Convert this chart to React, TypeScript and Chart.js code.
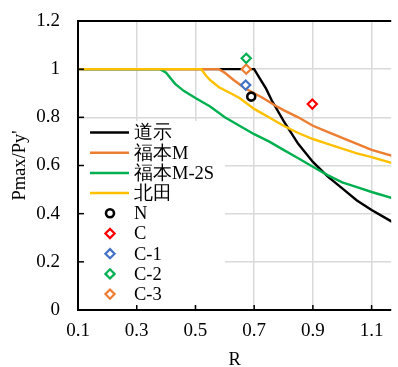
import { useEffect, useRef } from "react";
import { Chart, registerables } from "chart.js";

Chart.register(...registerables);

// ---- data ----
const xTicks = [0.1, 0.3, 0.5, 0.7, 0.9, 1.1];
const yTicks = [0, 0.2, 0.4, 0.6, 0.8, 1, 1.2];

const douziR = [0.1, 0.7, 0.72, 0.74, 0.76, 0.8, 0.85, 0.9, 0.95, 1.0, 1.05, 1.1, 1.17];
const douziV = [1, 1, 0.96, 0.92, 0.87, 0.785, 0.69, 0.615, 0.555, 0.505, 0.455, 0.415, 0.366];

const fukuR = [0.1, 0.58, 0.6, 0.63, 0.67, 0.7, 0.73, 0.77, 0.8, 0.85, 0.9, 0.95, 1.0, 1.05, 1.1, 1.17];
const fukuV = [1, 1, 0.985, 0.955, 0.92, 0.9, 0.88, 0.85, 0.83, 0.8, 0.765, 0.74, 0.715, 0.69, 0.665, 0.64];

const fuku2sR = [0.1, 0.38, 0.4, 0.43, 0.46, 0.5, 0.55, 0.6, 0.65, 0.7, 0.75, 0.8, 0.85, 0.9, 0.95, 1.0, 1.05, 1.1, 1.17];
const fuku2sV = [1, 1, 0.985, 0.94, 0.91, 0.88, 0.845, 0.8, 0.765, 0.73, 0.7, 0.665, 0.63, 0.595, 0.56, 0.53, 0.51, 0.49, 0.465];

const kitaR = [0.1, 0.52, 0.535, 0.55, 0.58, 0.62, 0.65, 0.7, 0.75, 0.8, 0.85, 0.9, 0.95, 1.0, 1.05, 1.1, 1.17];
const kitaV = [1, 1, 0.975, 0.955, 0.925, 0.9, 0.88, 0.835, 0.8, 0.765, 0.735, 0.71, 0.69, 0.67, 0.65, 0.635, 0.61];

const pointLabels = ["N", "C", "C-1", "C-2", "C-3"];
const pointR = [0.69, 0.898, 0.671, 0.673, 0.673];
const pointV = [0.886, 0.855, 0.934, 1.045, 1.0];

const lineLabels = ["道示", "福本M", "福本M-2S", "北田"];

const FONT = "'Liberation Serif', 'Times New Roman', serif";

function zip(xs: number[], ys: number[]) {
  return xs.map((x, i) => ({ x, y: ys[i] }));
}

function marker(ctx: CanvasRenderingContext2D, style: string, r: number, x: number, y: number) {
  ctx.beginPath();
  if (style === "circle") {
    ctx.arc(x, y, r, 0, Math.PI * 2);
  } else {
    ctx.moveTo(x, y - r);
    ctx.lineTo(x + r, y);
    ctx.lineTo(x, y + r);
    ctx.lineTo(x - r, y);
    ctx.closePath();
  }
  ctx.fill();
  ctx.stroke();
}

const bgPlugin = {
  id: "whiteBg",
  beforeDraw(chart: any) {
    const ctx = chart.ctx;
    ctx.save();
    ctx.fillStyle = "#ffffff";
    ctx.fillRect(0, 0, chart.width, chart.height);
    ctx.restore();
  },
};

const legendPlugin = {
  id: "boxLegend",
  afterDatasetsDraw(chart: any) {
    const ctx = chart.ctx;
    const area = chart.chartArea;
    ctx.save();
    const left = area.left + 2;
    const top = area.top + 100;
    ctx.fillStyle = "#ffffff";
    ctx.fillRect(left, top, 145, 184);
    const datasets = chart.data.datasets;
    for (let row = 0; row < datasets.length; row++) {
      const ds = datasets[row];
      const y = top + 11.5 + row * 20.2;
      if (ds.showLine) {
        ctx.strokeStyle = ds.borderColor;
        ctx.lineWidth = 2.5;
        ctx.beginPath();
        ctx.moveTo(left + 10, y);
        ctx.lineTo(left + 49, y);
        ctx.stroke();
      } else {
        ctx.strokeStyle = ds.borderColor;
        ctx.fillStyle = "#ffffff";
        ctx.lineWidth = ds.pointBorderWidth;
        marker(ctx, ds.pointStyle, ds.pointRadius, left + 30, y);
      }
      ctx.fillStyle = "#000000";
      ctx.font = "18.5px " + FONT;
      ctx.textBaseline = "middle";
      ctx.textAlign = "left";
      ctx.fillText(ds.label, left + 54, y + 1);
    }
    ctx.restore();
  },
};

const framePlugin = {
  id: "frame",
  afterDraw(chart: any) {
    const ctx = chart.ctx;
    const area = chart.chartArea;
    ctx.save();
    ctx.strokeStyle = "#000000";
    ctx.lineWidth = 2;
    ctx.beginPath();
    ctx.moveTo(area.left, area.top);
    ctx.lineTo(area.right, area.top);
    ctx.stroke();
    ctx.beginPath();
    ctx.moveTo(area.left, area.top - 1);
    ctx.lineTo(area.left, area.bottom + 1);
    ctx.stroke();
    ctx.beginPath();
    ctx.moveTo(area.left - 1, area.bottom);
    ctx.lineTo(area.right, area.bottom);
    ctx.stroke();
    ctx.lineWidth = 1.5;
    const xs = chart.scales.x;
    const ys = chart.scales.y;
    xTicks.forEach((v) => {
      const px = xs.getPixelForValue(v);
      ctx.beginPath();
      ctx.moveTo(px, area.bottom);
      ctx.lineTo(px, area.bottom - 5);
      ctx.stroke();
    });
    yTicks.forEach((v) => {
      const py = ys.getPixelForValue(v);
      ctx.beginPath();
      ctx.moveTo(area.left, py);
      ctx.lineTo(area.left + 6, py);
      ctx.stroke();
    });
    ctx.restore();
  },
};

export default function App() {
  const ref = useRef<HTMLCanvasElement | null>(null);
  useEffect(() => {
    if (!ref.current) return;
    const lineColors = ["#000000", "#ed7d31", "#00b050", "#ffc000"];
    const lineData = [zip(douziR, douziV), zip(fukuR, fukuV), zip(fuku2sR, fuku2sV), zip(kitaR, kitaV)];
    const lineOrder = [4, 3, 2, 1];
    const pointColors = ["#000000", "#ff0000", "#4472c4", "#00b050", "#ed7d31"];
    const datasets: any[] = [];
    lineLabels.forEach((label, i) => {
      datasets.push({
        label,
        data: lineData[i],
        showLine: true,
        borderColor: lineColors[i],
        backgroundColor: lineColors[i],
        borderWidth: 2.4,
        pointRadius: 0,
        order: lineOrder[i],
      });
    });
    pointLabels.forEach((label, i) => {
      datasets.push({
        label,
        data: [{ x: pointR[i], y: pointV[i] }],
        showLine: false,
        borderColor: pointColors[i],
        backgroundColor: "#ffffff",
        pointStyle: i === 0 ? "circle" : "rectRot",
        pointRadius: i === 0 ? 4 : 4.6,
        pointBorderWidth: i === 0 ? 2.6 : 2.2,
        order: 0,
      });
    });
    const chart = new Chart(ref.current, {
      type: "scatter",
      data: { datasets },
      plugins: [bgPlugin, legendPlugin, framePlugin],
      options: {
        animation: false,
        responsive: false,
        layout: { padding: { top: 21, right: 0, left: 0, bottom: 0 } },
        plugins: { legend: { display: false } },
        scales: {
          x: {
            min: 0.1,
            max: 1.1667,
            afterBuildTicks: (s: any) => {
              s.ticks = xTicks.map((v) => ({ value: v }));
            },
            afterFit: (s: any) => {
              s.height = 57;
              s.paddingLeft = 0;
              s.paddingRight = 0;
            },
            ticks: {
              color: "#000",
              padding: 10,
              font: { family: FONT, size: 19 },
            },
            grid: { color: "#d9d9d9", lineWidth: 1.5, drawTicks: false },
            border: { display: false },
            title: {
              display: true,
              text: "R",
              color: "#000",
              font: { family: FONT, size: 18.5, lineHeight: 1 },
              padding: { top: 0, bottom: -2.5 },
            },
          },
          y: {
            min: 0,
            max: 1.2,
            afterBuildTicks: (s: any) => {
              s.ticks = yTicks.map((v) => ({ value: v }));
            },
            afterFit: (s: any) => {
              s.width = 78;
              s.paddingTop = 0;
              s.paddingBottom = 0;
            },
            ticks: {
              color: "#000",
              padding: 18,
              font: { family: FONT, size: 19 },
              callback: (v: any) => String(v),
            },
            grid: { color: "#d9d9d9", lineWidth: 1.5, drawTicks: false },
            border: { display: false },
            title: {
              display: true,
              text: "Pmax/Py'",
              color: "#000",
              font: { family: FONT, size: 18.5, lineHeight: 1.2 },
              padding: { top: 9, bottom: 0 },
            },
          },
        },
      },
    });
    return () => chart.destroy();
  }, []);
  return (
    <div style={{ position: "fixed", left: 0, top: 0, width: 398, height: 367, background: "#fff" }}>
      <canvas ref={ref} width={398} height={367} style={{ width: 398, height: 367, display: "block" }} />
    </div>
  );
}
